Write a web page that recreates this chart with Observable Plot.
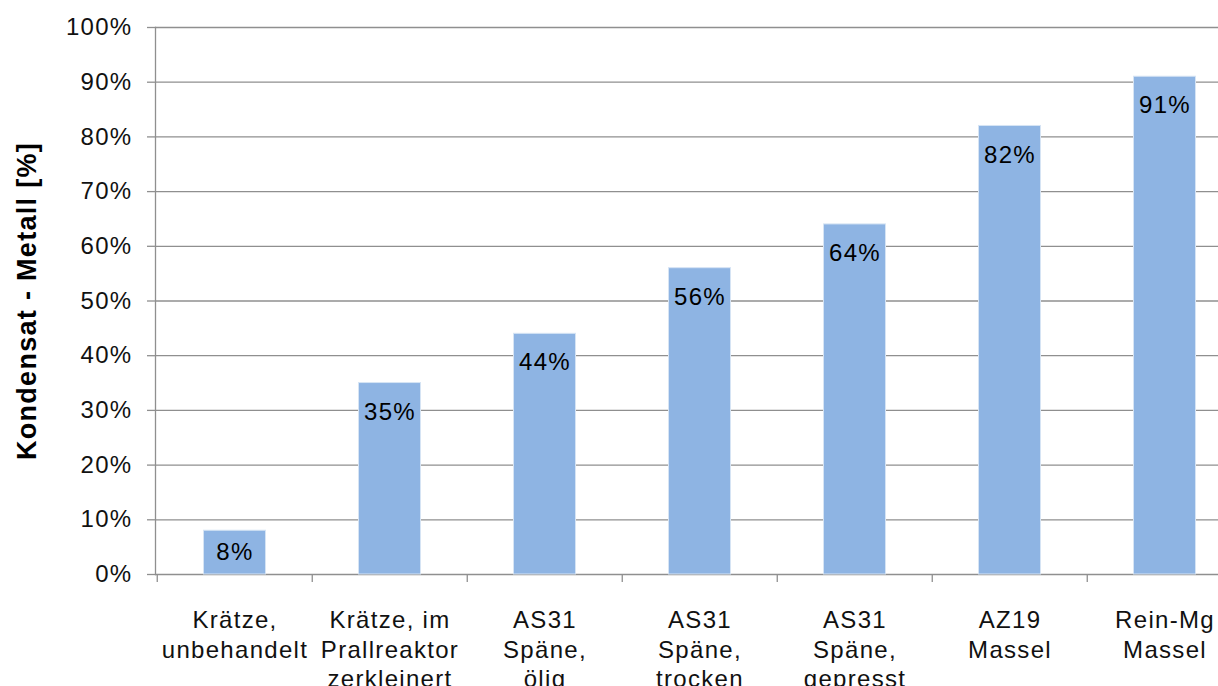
<!DOCTYPE html>
<html>
<head>
<meta charset="utf-8">
<script src="https://cdn.jsdelivr.net/npm/d3@7"></script>
<script src="https://cdn.jsdelivr.net/npm/@observablehq/plot@0.6"></script>
<style>
  body { margin: 0; background: #fff; }
  #chart svg { display: block; }
  #chart text { letter-spacing: 1.3px; }
</style>
</head>
<body>
<div id="chart"></div>
<script>
// Categories (multi-line labels) and condensate metal share in percent
const categories = [
  "Krätze,\nunbehandelt",
  "Krätze, im\nPrallreaktor\nzerkleinert",
  "AS31\nSpäne,\nölig",
  "AS31\nSpäne,\ntrocken",
  "AS31\nSpäne,\ngepresst",
  "AZ19\nMassel",
  "Rein-Mg\nMassel"
];
const values = [8, 35, 44, 56, 64, 82, 91];
const yTicks = [0, 10, 20, 30, 40, 50, 60, 70, 80, 90, 100];
const yTitle = "Kondensat - Metall [%]";

const data = categories.map((c, i) => ({category: c, value: values[i]}));

const chartW = 1218, chartH = 686;
const mLeft = 155, mTop = 27, mBottom = 112;
const step = 155.5;                      // width of one category band
const font = "'Liberation Sans', Arial, sans-serif";
const gridColor = "#8f8f8f";

const chart = Plot.plot({
  width: chartW,
  height: chartH,
  marginLeft: mLeft,
  marginRight: 0,
  marginTop: mTop,
  marginBottom: mBottom,
  style: {fontFamily: font, fontSize: "24px", color: "#111", background: "#fff"},
  x: {domain: categories, range: [mLeft, mLeft + step * categories.length], padding: 0},
  y: {domain: [0, 100]},
  marks: [
    // horizontal gridlines
    Plot.ruleY(yTicks, {stroke: gridColor, strokeWidth: 1.3}),
    // vertical axis line
    Plot.frame({anchor: "left", stroke: gridColor, strokeWidth: 1.3}),
    // y axis: short ticks and percent labels
    Plot.axisY({
      ticks: yTicks, tickSize: 8, tickPadding: 15,
      tickFormat: d => d + "%", stroke: gridColor, strokeWidth: 1.3,
      fontSize: 24, fill: "#111", label: null
    }),
    // x tick marks sit on the category boundaries
    Plot.axisX({
      tickSize: 8, dx: -step / 2, tickFormat: () => "",
      stroke: gridColor, strokeWidth: 1.3, label: null
    }),
    // category labels
    Plot.text(data, {
      x: "category", text: "category", frameAnchor: "bottom",
      lineAnchor: "top", dy: 33, lineHeight: 1.23,
      fontSize: 24, fill: "#111"
    }),
    // bars
    Plot.barY(data, {
      x: "category", y: "value", fill: "#8EB4E3",
      stroke: "#d6e4f4", strokeWidth: 1,
      insetLeft: 46.5, insetRight: 46.5
    }),
    // value labels inside the bars
    Plot.text(data, {
      x: "category",
      y: d => Math.max(d.value - 5.3, d.value / 2),
      text: d => d.value + "%",
      fontSize: 24, fill: "#000"
    }),
    // y title
    Plot.text([yTitle], {
      text: d => d, frameAnchor: "left", textAnchor: "middle", rotate: -90,
      dx: -128, fontSize: 27, fontWeight: "bold", fill: "#000",
      ariaLabel: "y-title"
    })
  ]
});

document.getElementById("chart").append(chart);
d3.select(chart).selectAll('g[aria-label="y-title"] text').style("letter-spacing", "2.6px");
</script>
</body>
</html>
